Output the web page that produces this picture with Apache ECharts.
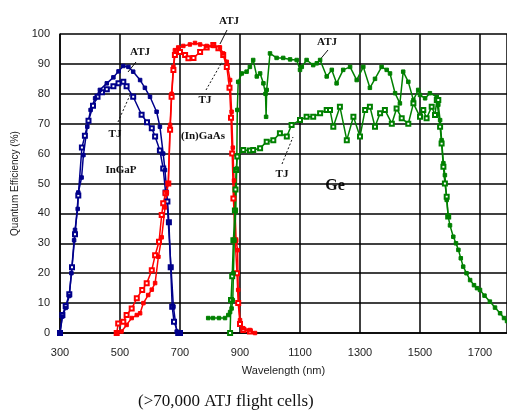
<!DOCTYPE html>
<html>
<head>
<meta charset="utf-8">
<script src="https://cdn.jsdelivr.net/npm/echarts@6/dist/echarts.min.js"></script>
<style>
    html, body { margin: 0; padding: 0; background: #fff; }
    #chart { width: 507px; height: 410px; }
</style>
</head>
<body>
<div id="chart"></div>
<script>
// InGaP top cell
var ingapAtjWl = [300, 308, 319, 331, 338, 347, 350, 359, 361, 372, 378, 391, 402, 417, 433, 456, 478, 495, 511, 528, 544, 567, 583, 600, 622, 633, 644, 650, 656, 661, 670, 678, 689, 700];
var ingapAtjQe = [0, 5.5, 8.4, 12.4, 20, 31, 34.5, 41.5, 47, 52, 59.5, 69, 74.6, 78.5, 81.3, 83.5, 85.5, 87.5, 89.3, 89, 87.4, 84.6, 82, 79, 74, 69, 60, 54.5, 47, 37, 22, 8.8, 0.5, 0];
var ingapTjWl = [300, 308, 319, 331, 340, 350, 361, 373, 383, 395, 410, 425, 440, 456, 478, 495, 511, 522, 544, 572, 590, 606, 617, 633, 644, 652, 658, 663, 669, 674, 680, 694, 700];
var ingapTjQe = [0, 6, 9, 13, 22, 33, 46, 62, 66, 71, 76, 79, 80.5, 81.5, 82.5, 83.5, 84, 82.5, 79, 73, 70.5, 68.5, 65.7, 61, 55, 47, 44, 37, 22, 8.8, 3.8, 0, 0];

// (In)GaAs middle cell
var gaasAtjWl = [489, 505, 522, 539, 556, 567, 578, 594, 606, 617, 628, 639, 650, 656, 661, 667, 672, 678, 683, 694, 711, 733, 750, 767, 789, 811, 833, 844, 856, 867, 872, 876, 880, 887, 892, 894, 900, 911, 933, 950];
var gaasAtjQe = [0, 0.5, 2.7, 5, 6, 6.6, 10, 12.7, 14.5, 16.7, 25.5, 32, 42, 47, 50, 69.6, 80, 89, 94.6, 95.5, 96, 96.5, 97, 96.5, 96, 96, 95.5, 93.5, 90.7, 84.6, 74, 62, 51, 31, 27.7, 14.4, 4.3, 1.6, 1, 0];
var gaasTjWl = [489, 494, 511, 522, 539, 556, 574, 589, 606, 617, 630, 639, 644, 652, 661, 667, 672, 678, 683, 700, 717, 728, 745, 767, 789, 811, 828, 844, 856, 865, 870, 874, 878, 884, 890, 894, 900, 911, 933];
var gaasTjQe = [0, 3.2, 3.8, 6, 8.2, 11.6, 14.4, 16.6, 21, 26, 30.5, 39.5, 43.4, 46.7, 50, 68, 79, 88, 93, 94, 93, 91.9, 92, 94, 95.5, 96.3, 95.2, 93, 89, 82, 72, 60, 45, 31, 20, 10, 3, 1, 0.5];

// Ge bottom cell
var geAtjWl = [794, 810, 830, 850, 861, 867, 872, 876, 878, 881, 886, 889, 891, 894, 906, 922, 933, 944, 956, 967, 978, 985, 987, 989, 1000, 1022, 1044, 1067, 1089, 1100, 1106, 1122, 1144, 1156, 1167, 1189, 1206, 1222, 1244, 1267, 1289, 1311, 1333, 1350, 1372, 1389, 1400, 1417, 1433, 1444, 1461, 1478, 1494, 1500, 1517, 1533, 1556, 1561, 1567, 1572, 1578, 1583, 1589, 1594, 1600, 1611, 1620, 1628, 1636, 1644, 1655, 1667, 1680, 1690, 1700, 1715, 1733, 1750, 1767, 1780, 1790];
var geAtjQe = [5, 5, 5, 5, 6, 7, 8.2, 11, 20, 31, 41, 55, 74.6, 84, 86.8, 87.4, 89, 91.3, 85.8, 86.8, 83.5, 80, 72.3, 81.3, 93.5, 92, 92, 91.5, 91.3, 88, 89, 91.3, 89.6, 90.2, 91.3, 85.8, 88, 83.5, 88, 89, 84.6, 89, 82, 85, 89, 88, 86.8, 80.2, 76.8, 87.4, 84, 77.9, 81.3, 79.6, 78.5, 80.2, 79, 76.3, 71.2, 64.5, 56.8, 52.8, 44.5, 38.9, 36, 32.2, 30, 27.8, 25, 22.2, 20, 17.7, 16, 15, 14.4, 12.5, 10.5, 8.5, 6.6, 5, 4];
var geTjWl = [867, 870, 874, 878, 883, 885, 887, 891, 911, 933, 944, 967, 989, 1011, 1033, 1056, 1072, 1100, 1122, 1144, 1167, 1189, 1200, 1211, 1233, 1256, 1278, 1300, 1317, 1333, 1350, 1367, 1383, 1406, 1422, 1439, 1461, 1478, 1500, 1511, 1522, 1539, 1550, 1556, 1561, 1567, 1572, 1578, 1583, 1589, 1594];
var geTjQe = [0, 11, 19, 31, 41, 48, 54.5, 59, 61.2, 61, 61.2, 61.8, 64, 64.5, 66.8, 65.7, 69.6, 71.2, 72.3, 72.3, 73.5, 74.6, 74.6, 69, 75.7, 64.5, 72.3, 65.7, 74.6, 75.7, 69, 73.5, 74.6, 70, 75.1, 71.8, 70, 76.8, 72.3, 74.6, 71.8, 75.7, 72.9, 77.9, 77.9, 69, 63.4, 55.6, 50, 45.6, 39];

var xTicks = { min: 300, max: 1790, step: 200 };
var yTicks = { min: 0, max: 100, step: 10 };

function pairs(xs, ys) {
    return xs.map(function (x, i) { return [x, ys[i]]; });
}

function curve(name, color, xs, ys, hollow) {
    return {
        name: name,
        type: 'line',
        data: pairs(xs, ys),
        symbol: hollow ? 'emptyRect' : 'rect',
        symbolSize: hollow ? 4 : 3.5,
        showAllSymbol: true,
        lineStyle: { color: color, width: 1.5 },
        itemStyle: { color: color, borderColor: color, borderWidth: 1 },
        emphasis: { disabled: true },
        animation: false
    };
}

var serif = '"Liberation Serif", "DejaVu Serif", serif';
var sans = '"Liberation Sans", Arial, sans-serif';

function note(text, x, y, size) {
    return {
        type: 'text', x: x, y: y,
        style: { text: text, font: 'bold ' + (size || 11) + 'px ' + serif, fill: '#111', align: 'center', verticalAlign: 'middle' }
    };
}
function leader(x1, y1, x2, y2, dashed) {
    return {
        type: 'line',
        shape: { x1: x1, y1: y1, x2: x2, y2: y2 },
        style: { stroke: '#111', lineWidth: 1, lineDash: dashed ? [2, 2] : null }
    };
}

var chart = echarts.init(document.getElementById('chart'));
chart.setOption({
    backgroundColor: '#fff',
    animation: false,
    title: {
        text: '(>70,000 ATJ flight cells)',
        left: 133, top: 388,
        textStyle: { fontFamily: serif, fontSize: 17, fontWeight: 'normal', color: '#111' }
    },
    grid: { left: 60, top: 34, right: 0, bottom: 77 },
    xAxis: {
        type: 'value',
        min: xTicks.min, max: xTicks.max, interval: xTicks.step,
        name: 'Wavelength (nm)',
        nameLocation: 'middle', nameGap: 32,
        nameTextStyle: { fontFamily: sans, fontSize: 11, color: '#222' },
        axisLine: { lineStyle: { color: '#000', width: 1.5 } },
        axisTick: { show: false },
        axisLabel: {
            margin: 14, fontFamily: sans, fontSize: 11, color: '#222', showMaxLabel: false,
            formatter: function (v) { return String(v); }
        },
        splitLine: { lineStyle: { color: '#000', width: 1.5 } }
    },
    yAxis: {
        type: 'value',
        min: yTicks.min, max: yTicks.max, interval: yTicks.step,
        name: 'Quantum Efficiency (%)',
        nameLocation: 'middle', nameGap: 38,
        nameTextStyle: { fontFamily: sans, fontSize: 10, color: '#222' },
        axisLine: { show: true, lineStyle: { color: '#000', width: 1.5 } },
        axisTick: { show: false },
        axisLabel: { margin: 10, fontFamily: sans, fontSize: 11, color: '#222' },
        splitLine: { lineStyle: { color: '#000', width: 1.5 } }
    },
    series: [
        curve('InGaP TJ', '#00008b', ingapTjWl, ingapTjQe, true),
        curve('InGaP ATJ', '#00008b', ingapAtjWl, ingapAtjQe, false),
        curve('(In)GaAs TJ', '#ff0000', gaasTjWl, gaasTjQe, true),
        curve('(In)GaAs ATJ', '#ff0000', gaasAtjWl, gaasAtjQe, false),
        curve('Ge TJ', '#008000', geTjWl, geTjQe, true),
        curve('Ge ATJ', '#008000', geAtjWl, geAtjQe, false)
    ],
    graphic: [
        note('ATJ', 140, 52), leader(136, 62, 128, 72),
        note('TJ', 115, 134), leader(118, 122, 130, 95, true),
        note('InGaP', 121, 170),
        note('ATJ', 229, 21), leader(227, 30, 220, 44),
        note('TJ', 205, 100), leader(206, 90, 222, 62, true),
        note('(In)GaAs', 203, 136),
        note('ATJ', 327, 42), leader(328, 50, 318, 62),
        note('TJ', 282, 174), leader(282, 164, 293, 137, true),
        note('Ge', 335, 186, 16)
    ]
});
</script>
</body>
</html>
